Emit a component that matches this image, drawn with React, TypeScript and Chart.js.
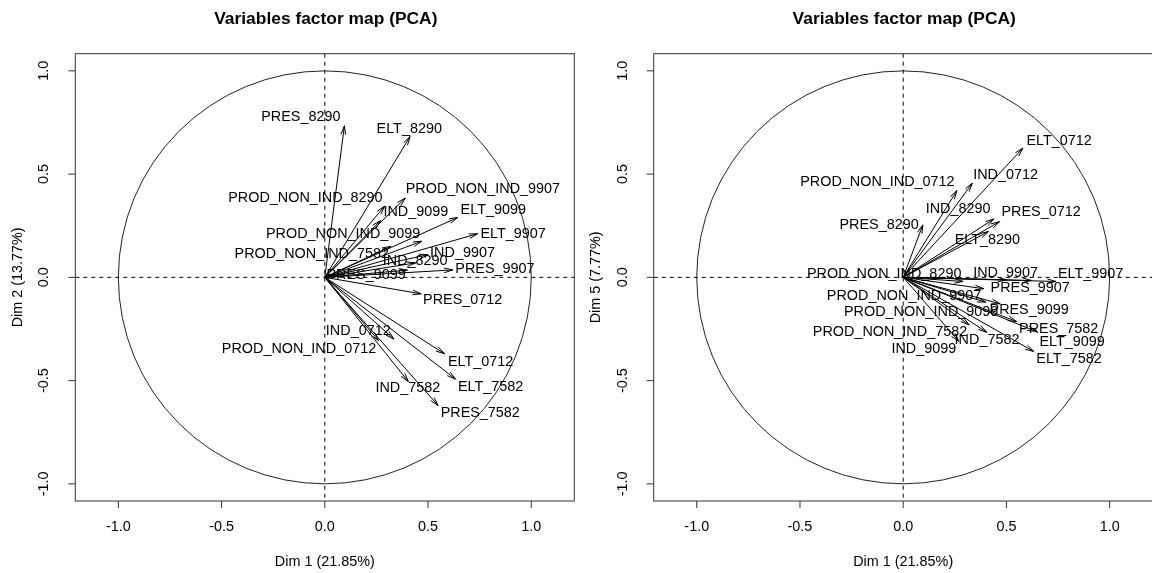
import React, { useEffect, useRef } from 'react';
import { Chart, registerables } from 'chart.js';

Chart.register(...registerables);

// ---- Data ----
const variables = [
  'PRES_7582', 'ELT_7582', 'IND_7582', 'PROD_NON_IND_7582',
  'PRES_8290', 'ELT_8290', 'IND_8290', 'PROD_NON_IND_8290',
  'PRES_9099', 'ELT_9099', 'IND_9099', 'PROD_NON_IND_9099',
  'PRES_9907', 'ELT_9907', 'IND_9907', 'PROD_NON_IND_9907',
  'PRES_0712', 'ELT_0712', 'IND_0712', 'PROD_NON_IND_0712',
];

const dim1 = [
  0.549, 0.633, 0.405, 0.32,
  0.095, 0.413, 0.44, 0.29,
  0.40, 0.644, 0.27, 0.47,
  0.62, 0.74, 0.50, 0.39,
  0.467, 0.580, 0.335, 0.26,
];

const dim2 = [
  -0.621, -0.493, -0.505, 0.15,
  0.734, 0.682, 0.07, 0.345,
  0.035, 0.290, 0.275, 0.175,
  0.036, 0.211, 0.11, 0.384,
  -0.080, -0.370, -0.299, -0.306,
];

const dim5 = [
  -0.214, -0.359, -0.266, -0.23,
  0.254, 0.222, 0.283, -0.02,
  -0.12, -0.262, -0.31, -0.128,
  -0.015, -0.02, -0.012, -0.055,
  0.270, 0.626, 0.456, 0.420,
];

// label anchor positions (data units, text centre)
const dim2LabelX = [
  0.753, 0.803, 0.402, -0.063,
  -0.116, 0.409, 0.438, -0.094,
  0.200, 0.816, 0.441, 0.089,
  0.824, 0.912, 0.667, 0.766,
  0.668, 0.755, 0.162, -0.125,
];
const dim2LabelY = [
  -0.658, -0.529, -0.537, 0.114,
  0.776, 0.718, 0.080, 0.386,
  0.012, 0.327, 0.314, 0.211,
  0.040, 0.211, 0.120, 0.427,
  -0.112, -0.408, -0.259, -0.346,
];
const dim5LabelX = [
  0.753, 0.803, 0.406, -0.064,
  -0.117, 0.408, 0.266, -0.092,
  0.610, 0.818, 0.100, 0.087,
  0.615, 0.908, 0.496, 0.004,
  0.668, 0.755, 0.496, -0.125,
];
const dim5LabelY = [
  -0.249, -0.395, -0.303, -0.265,
  0.254, 0.182, 0.330, 0.017,
  -0.157, -0.314, -0.346, -0.166,
  -0.052, 0.017, 0.023, -0.090,
  0.314, 0.662, 0.496, 0.461,
];

const axisTicks = [-1, -0.5, 0, 0.5, 1];
const chartTitle = 'Variables factor map (PCA)';
const xAxisTitle = 'Dim 1 (21.85%)';
const yAxisTitleLeft = 'Dim 2 (13.77%)';
const yAxisTitleRight = 'Dim 5 (7.77%)';

const FONT = '"Liberation Sans", Arial, sans-serif';

type PanelProps = {
  ys: number[];
  labelX: number[];
  labelY: number[];
  yTitle: string;
  padLeft: number;
  width: number;
  left: number;
};

function Panel({ ys, labelX, labelY, yTitle, padLeft, width, left }: PanelProps) {
  const ref = useRef<HTMLCanvasElement | null>(null);
  useEffect(() => {
    if (!ref.current) return;
    const padRight = width - (padLeft + 499);
    const decor = {
      id: 'pcaDecor',
      beforeDatasetsDraw(chart: any) {
        const { ctx, chartArea, scales } = chart;
        const xs = scales.x;
        const yscale = scales.y;
        const ox = xs.getPixelForValue(0);
        const oy = yscale.getPixelForValue(0);
        const r = xs.getPixelForValue(1) - ox;
        ctx.save();
        ctx.strokeStyle = '#222';
        ctx.lineWidth = 1;
        ctx.beginPath();
        ctx.arc(ox, oy, r, 0, Math.PI * 2);
        ctx.stroke();
        ctx.strokeStyle = '#000';
        ctx.setLineDash([4, 4]);
        ctx.beginPath();
        ctx.moveTo(chartArea.left, oy);
        ctx.lineTo(chartArea.right, oy);
        ctx.moveTo(ox, chartArea.top);
        ctx.lineTo(ox, chartArea.bottom);
        ctx.stroke();
        ctx.restore();
      },
      afterDatasetsDraw(chart: any) {
        const { ctx, chartArea, scales } = chart;
        const xs = scales.x;
        const yscale = scales.y;
        const ox = xs.getPixelForValue(0);
        const oy = yscale.getPixelForValue(0);
        ctx.save();
        // arrow heads
        ctx.strokeStyle = '#000';
        ctx.lineWidth = 1;
        const headLen = 9;
        const headAng = (15 * Math.PI) / 180;
        for (let i = 0; i < variables.length; i++) {
          const px = xs.getPixelForValue(dim1[i]);
          const py = yscale.getPixelForValue(ys[i]);
          const a = Math.atan2(py - oy, px - ox);
          ctx.beginPath();
          ctx.moveTo(px - headLen * Math.cos(a - headAng), py - headLen * Math.sin(a - headAng));
          ctx.lineTo(px, py);
          ctx.lineTo(px - headLen * Math.cos(a + headAng), py - headLen * Math.sin(a + headAng));
          ctx.stroke();
        }
        // labels
        ctx.fillStyle = '#000';
        ctx.font = `14.4px ${FONT}`;
        ctx.textAlign = 'center';
        ctx.textBaseline = 'middle';
        for (let i = 0; i < variables.length; i++) {
          ctx.fillText(variables[i], xs.getPixelForValue(labelX[i]), yscale.getPixelForValue(labelY[i]));
        }
        // box
        ctx.strokeStyle = '#333';
        ctx.lineWidth = 1;
        ctx.strokeRect(chartArea.left, chartArea.top, chartArea.right - chartArea.left, chartArea.bottom - chartArea.top);
        // ticks
        ctx.beginPath();
        for (const t of axisTicks) {
          const tx = xs.getPixelForValue(t);
          ctx.moveTo(tx, chartArea.bottom);
          ctx.lineTo(tx, chartArea.bottom + 7);
          const ty = yscale.getPixelForValue(t);
          ctx.moveTo(chartArea.left, ty);
          ctx.lineTo(chartArea.left - 7, ty);
        }
        ctx.stroke();
        ctx.font = `14.4px ${FONT}`;
        ctx.textAlign = 'center';
        ctx.textBaseline = 'middle';
        for (const t of axisTicks) {
          ctx.fillText(t.toFixed(1), xs.getPixelForValue(t), chartArea.bottom + 26);
        }
        for (const t of axisTicks) {
          ctx.save();
          ctx.translate(chartArea.left - 31, yscale.getPixelForValue(t));
          ctx.rotate(-Math.PI / 2);
          ctx.fillText(t.toFixed(1), 0, 0);
          ctx.restore();
        }
        const cx = (chartArea.left + chartArea.right) / 2;
        const cy = (chartArea.top + chartArea.bottom) / 2;
        ctx.fillText(xAxisTitle, cx, chartArea.bottom + 61);
        ctx.save();
        ctx.translate(chartArea.left - 57.5, cy);
        ctx.rotate(-Math.PI / 2);
        ctx.fillText(yTitle, 0, 0);
        ctx.restore();
        ctx.font = `bold 17.4px ${FONT}`;
        ctx.fillText(chartTitle, cx + 1, 19.5);
        ctx.restore();
      },
    };
    const chart = new Chart(ref.current, {
      type: 'scatter',
      data: {
        datasets: variables.map((name, i) => ({
          label: name,
          data: [
            { x: 0, y: 0 },
            { x: dim1[i], y: ys[i] },
          ],
          showLine: true,
          borderColor: '#000',
          borderWidth: 1,
          pointRadius: 0,
          pointHoverRadius: 0,
          fill: false,
        })),
      },
      options: {
        responsive: false,
        animation: false,
        layout: { padding: { left: padLeft, right: padRight, top: 53.7, bottom: 72 } },
        scales: {
          x: { type: 'linear', display: false, min: -1.2085, max: 1.2085 },
          y: { type: 'linear', display: false, min: -1.083, max: 1.083 },
        },
        plugins: {
          legend: { display: false },
          tooltip: { enabled: false },
          title: { display: false },
        },
        events: [],
      },
      plugins: [decor],
    } as any);
    return () => chart.destroy();
  }, [ys, labelX, labelY, yTitle, padLeft, width]);
  return (
    <canvas
      ref={ref}
      width={width}
      height={573}
      style={{ position: 'absolute', left, top: 0, width, height: 573, display: 'block' }}
    />
  );
}

export default function App() {
  return (
    <div
      style={{
        position: 'fixed',
        left: 0,
        top: 0,
        width: 1152,
        height: 573,
        overflow: 'hidden',
        background: '#fff',
      }}
    >
      <Panel ys={dim2} labelX={dim2LabelX} labelY={dim2LabelY} yTitle={yAxisTitleLeft} padLeft={75.3} width={576} left={0} />
      <Panel ys={dim5} labelX={dim5LabelX} labelY={dim5LabelY} yTitle={yAxisTitleRight} padLeft={77.7} width={578} left={576} />
    </div>
  );
}
